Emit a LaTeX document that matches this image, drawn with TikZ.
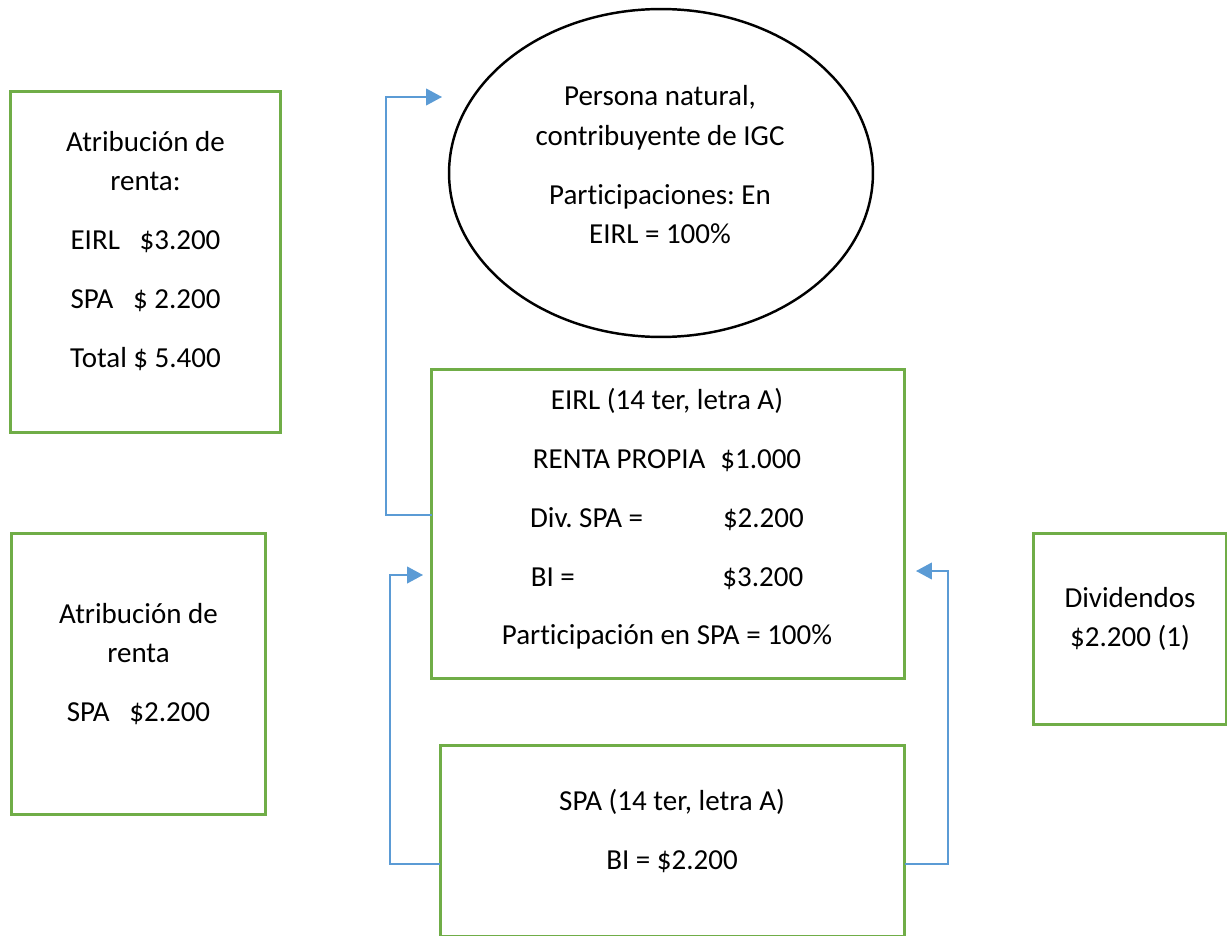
\documentclass[tikz,border=0pt]{standalone}
\usepackage{fontspec}
\setmainfont{Carlito}[Ligatures=NoCommon]
\usetikzlibrary{arrows.meta,shapes.geometric}
\definecolor{boxgreen}{HTML}{70AD47}
\definecolor{linkblue}{HTML}{5B9BD5}
\tikzset{
	greenbox/.style={draw=boxgreen, line width=1.7pt, rectangle, inner sep=0pt, outer sep=0pt},
	boxtext/.style={align=center, inner sep=0pt, font=\fontsize{16.5}{22.5}\selectfont},
	link/.style={draw=linkblue, line width=0.8pt, -{Triangle[length=9pt,width=9.5pt]}}
}

\begin{document}
\frenchspacing
\begin{tikzpicture}[x=0.02cm, y=-0.02cm]
		%%%%% START %%%%%
		\useasboundingbox (0,0) rectangle (1227,936);
		\clip (0,0) rectangle (1227,936);
		
		\node[greenbox, minimum width=5.42cm, minimum height=6.84cm] (atribTotal) at (145.5,262) {};
		\node[boxtext] (atribTotalText) at (145.5,251) {Atribución de\\renta:\\[11pt]EIRL~~~\$3.200\\[11pt]SPA~~~\$~2.200\\[11pt]Total \$ 5.400};
		
		\node[greenbox, minimum width=5.1cm, minimum height=5.64cm] (atribSpa) at (138.5,674) {};
		\node[boxtext] (atribSpaText) at (138.5,664) {Atribución de\\renta\\[11pt]SPA~~~\$2.200};
		
		\node[draw, ellipse, line width=1.4pt, inner sep=0pt, minimum width=8.48cm, minimum height=6.56cm] (persona) at (661,173) {};
		\node[boxtext] (personaText) at (660,165) {Persona natural,\\contribuyente de IGC\\[11pt]Participaciones: En\\EIRL = 100\%};
		
		\node[greenbox, minimum width=9.46cm, minimum height=6.2cm] (eirl) at (668,524) {};
		\node[boxtext] (eirlText) at (667,519) {EIRL (14 ter, letra A)\\[11pt]RENTA PROPIA\hspace{8.5pt}\$1.000\\[11pt]Div. SPA =\hspace{45.5pt}\$2.200\\[11pt]BI =\hspace{84pt}\$3.200\\[11pt]Participación en SPA = 100\%};
		
		\node[greenbox, minimum width=9.3cm, minimum height=3.84cm] (spa) at (672.5,841) {};
		\node[boxtext] (spaText) at (672,831) {SPA (14 ter, letra A)\\[11pt]BI = \$2.200};
		
		\node[greenbox, minimum width=3.86cm, minimum height=3.84cm] (dividendos) at (1129.5,629) {};
		\node[boxtext] (dividendosText) at (1130,619) {Dividendos\\\$2.200 (1)};
		
		\coordinate (elbowPersona) at (386,97);
		\coordinate (tipPersona) at (442,97);
		\draw[link] ([yshift=5.1pt]eirl.west) -| (elbowPersona) -- (tipPersona);
		
		\coordinate (elbowEirlLeft) at (390,575);
		\coordinate (tipEirlLeft) at (423,575);
		\draw[link] ([yshift=-13.1pt]spa.west) -| (elbowEirlLeft) -- (tipEirlLeft);
		
		\coordinate (elbowEirlRight) at (948,571);
		\coordinate (tipEirlRight) at (916,571);
		\draw[link] ([yshift=-13.1pt]spa.east) -| (elbowEirlRight) -- (tipEirlRight);
		
		%%%%% END %%%%%
\end{tikzpicture}
\end{document}
